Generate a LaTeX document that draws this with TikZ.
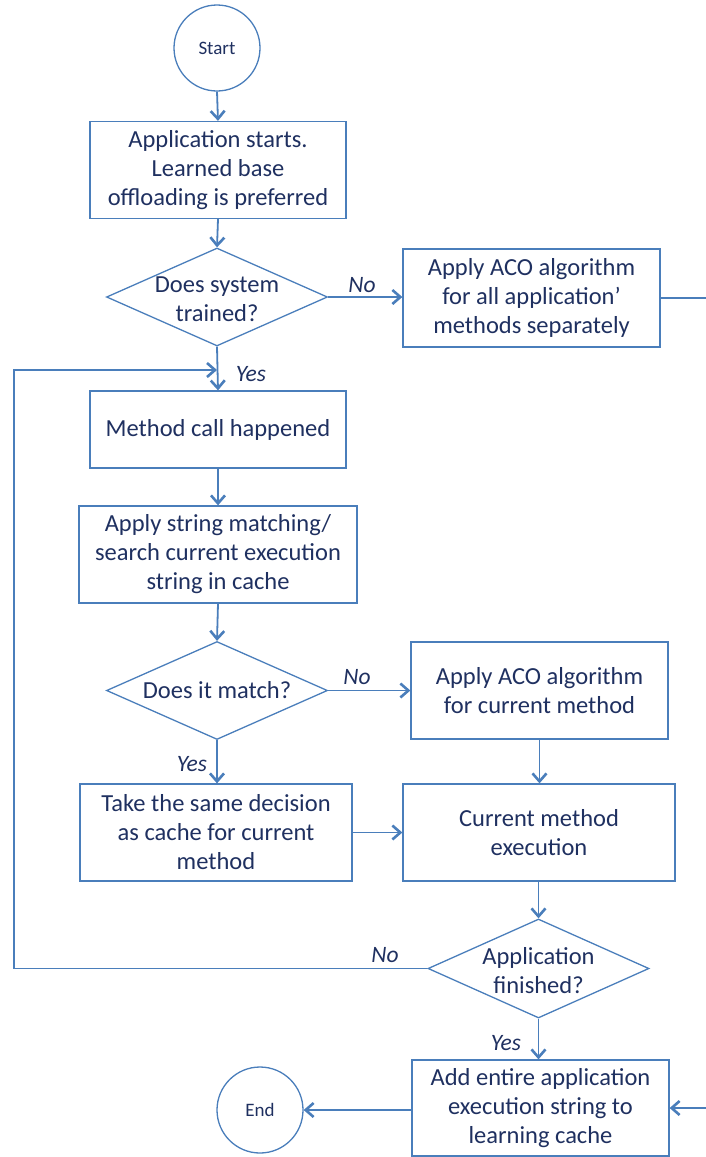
\documentclass[tikz,border=0pt]{standalone}
\usepackage{fontspec}
\setmainfont{Carlito}
\usetikzlibrary{arrows.meta,shapes.geometric}
\definecolor{lineblue}{HTML}{4A7EBB}
\definecolor{textblue}{HTML}{1F3060}
\tikzset{
  base/.style={draw=lineblue, line width=1.3pt, text=textblue, font=\fontsize{24.5}{29}\selectfont, align=center, inner sep=0pt},
  procbox/.style={base, rectangle, minimum width=#1, minimum height=97pt},
  dtext/.style={text=textblue, font=\fontsize{24.5}{29}\selectfont, align=center, inner sep=0pt},
  decision/.style={draw=lineblue, line width=1.3pt, diamond, shape aspect=2.26, inner sep=0pt, minimum width=221pt, minimum height=98pt},
  terminal/.style={base, circle, minimum size=86pt, font=\fontsize{19}{22}\selectfont},
  conn/.style={draw=lineblue, line width=1.8pt, -{Straight Barb[length=8pt,width=14pt,line width=2.6pt]}},
  plainconn/.style={draw=lineblue, line width=1.8pt},
  lbl/.style={text=textblue, font=\fontsize{23.5}{26}\itshape, inner sep=0pt}
}
\begin{document}
\begin{tikzpicture}[x=1pt,y=-1pt]
\useasboundingbox (0,0) rectangle (706,1157);
\node[terminal] (start) at (217,48) {Start};
\node[procbox=256pt] (app) at (218,170) {Application starts.\\Learned base\\offloading is preferred};
\node[decision] (trained) at (217,297) {};
\node[dtext] (trainedtxt) at (217,299) {Does system\\trained?};
\node[procbox=257pt, minimum height=98pt] (aco1) at (531.5,298) {Apply ACO algorithm\\for all application’\\methods separately};
\node[procbox=256pt, minimum height=77pt] (call) at (218,429.5) {Method call happened};
\node[procbox=278pt] (match) at (218,554.5) {Apply string matching/\\search current execution\\string in cache};
\node[decision] (doesmatch) at (217,690.5) {};
\node[dtext] (doesmatchtxt) at (doesmatch.center) {Does it match?};
\node[procbox=257pt] (aco2) at (539.5,690.5) {Apply ACO algorithm\\for current method};
\node[procbox=272pt] (take) at (216,832.5) {Take the same decision\\as cache for current\\method};
\node[procbox=272pt] (exec) at (539,832.5) {Current method\\execution};
\node[decision, minimum height=99pt] (finished) at (538.5,968.5) {};
\node[dtext] (finishedtxt) at (538.5,970.5) {Application\\finished?};
\node[procbox=257pt, minimum height=96pt] (add) at (540.5,1108) {Add entire application\\execution string to\\learning cache};
\node[terminal] (end) at (260,1110) {End};

\coordinate (rtop) at (706,298);
\coordinate (rbot) at (706,1108);
\coordinate (loopA) at (14,968.5);
\coordinate (loopB) at (14,370);
\coordinate (loopC) at (217,370);

\draw[conn] (start.south) -- (app.north);
\draw[conn] (app.south) -- (trained.north);
\draw[conn] (trained.east) -- (aco1.west |- trained.east);
\draw[plainconn] (aco1.east) -- (rtop);
\draw[conn] (trained.south) -- (call.north);
\draw[conn] (call.south) -- (match.north);
\draw[conn] (match.south) -- (doesmatch.north);
\draw[conn] (doesmatch.east) -- (aco2.west |- doesmatch.east);
\draw[conn] (doesmatch.south) -- (take.north -| doesmatch.south);
\draw[conn] (aco2.south) -- (exec.north -| aco2.south);
\draw[conn] (take.east) -- (exec.west);
\draw[conn] (exec.south -| finished.north) -- (finished.north);
\draw[conn] (finished.south) -- (add.north -| finished.south);
\draw[conn] (add.west |- end.east) -- (end.east);
\draw[conn] (rbot) -- (add.east |- rbot);
\draw[conn] (finished.west) -- (loopA) -- (loopB) -- (loopC);

\node[lbl] (l1) at (362,285) {No};
\node[lbl] (l2) at (251,374) {Yes};
\node[lbl] (l3) at (357,677) {No};
\node[lbl] (l4) at (192,764) {Yes};
\node[lbl] (l5) at (385,955) {No};
\node[lbl] (l6) at (506,1043) {Yes};
\end{tikzpicture}
\end{document}
